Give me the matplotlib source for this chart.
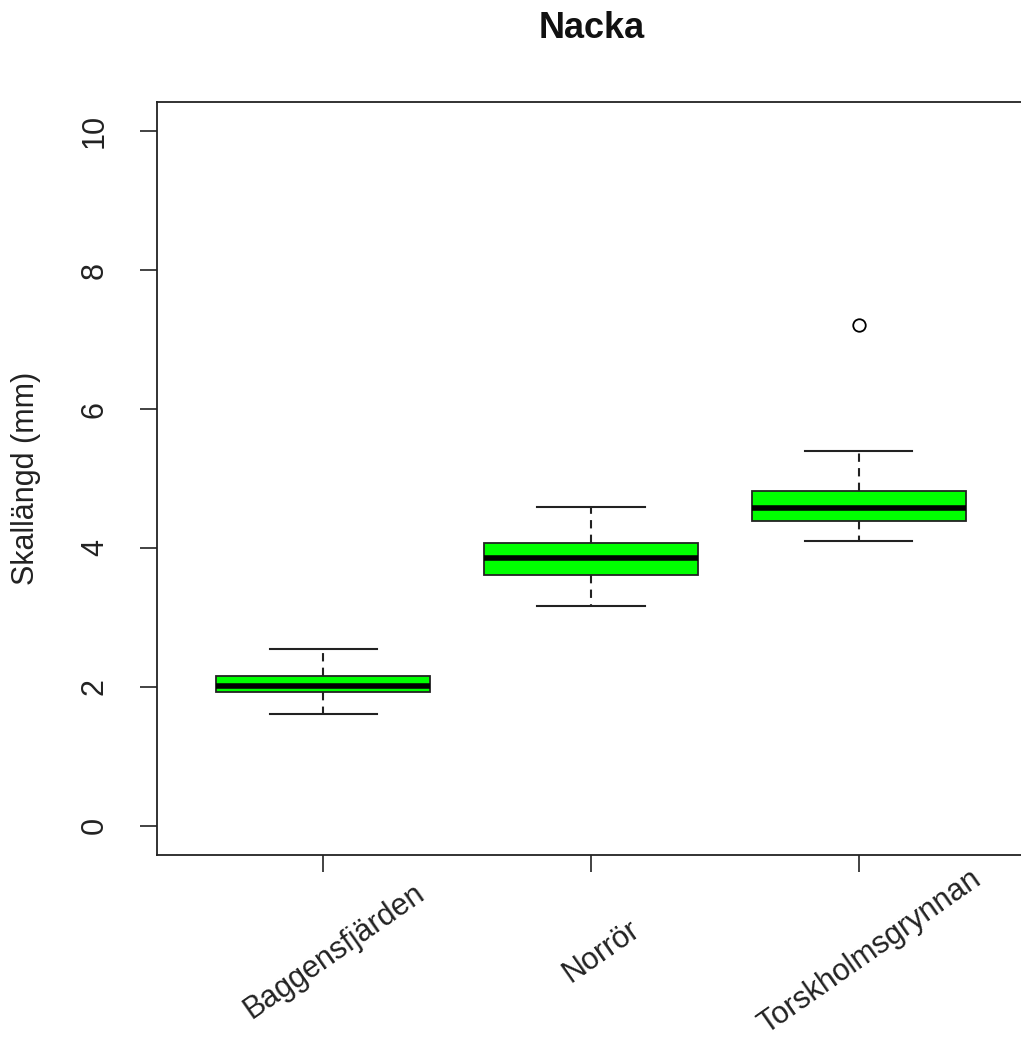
import numpy as np
import matplotlib
matplotlib.use("Agg")
import matplotlib.pyplot as plt
from matplotlib.transforms import blended_transform_factory

plt.rcParams['font.family'] = ['Liberation Sans', 'DejaVu Sans']

sites = ["Baggensfjärden", "Norrör", "Torskholmsgrynnan"]
whislo = [1.61, 3.17, 4.10]
q1 = [1.93, 3.61, 4.39]
med = [2.01, 3.86, 4.58]
q3 = [2.16, 4.07, 4.82]
whishi = [2.55, 4.59, 5.40]
fliers = [[], [], [7.21]]

stats = []
for i in range(len(sites)):
    stats.append(dict(label=sites[i], whislo=whislo[i], q1=q1[i], med=med[i],
                      q3=q3[i], whishi=whishi[i], fliers=fliers[i]))

fig = plt.figure(figsize=(10.21, 10.41), dpi=100)
ax = fig.add_axes([157/1021, 186/1041, 868/1021, 753/1041])

ax.bxp(stats, positions=[1, 2, 3], widths=0.8, capwidths=0.4,
       patch_artist=True,
       boxprops=dict(facecolor="#00ff00", edgecolor="#222222", linewidth=1.3),
       medianprops=dict(color="black", linewidth=4),
       whiskerprops=dict(color="#222222", linewidth=1.5, linestyle=(0, (4, 3))),
       capprops=dict(color="#222222", linewidth=1.5),
       flierprops=dict(marker="o", markersize=9, markerfacecolor="none",
                       markeredgecolor="black", markeredgewidth=1.3))

ax.set_xlim(0.38, 3.62)
ax.set_ylim(-0.42, 10.42)
ax.set_yticks([0, 2, 4, 6, 8, 10])
ax.set_xticks([1, 2, 3])
ax.set_xticklabels([])
ax.tick_params(axis="both", direction="out", length=12, width=1.2, labelsize=22,
               colors="#222222")
ax.tick_params(axis="y", pad=22)
for lbl in ax.get_yticklabels():
    lbl.set_rotation(90)
    lbl.set_va("center")
for s in ax.spines.values():
    s.set_linewidth(1.3)
    s.set_color("#222222")

trans = blended_transform_factory(ax.transData, fig.transFigure)
for i, name in enumerate(sites):
    ax.text(i + 1 + 0.04, 1 - 952/1041, name, transform=trans, rotation=35,
            ha="center", va="center", fontsize=22, color="#222222")

ax.set_ylabel("Skallängd (mm)", fontsize=22, color="#222222", labelpad=28)
fig.text(592/1021, 1 - 28/1041, "Nacka", ha="center", va="center",
         fontsize=26, fontweight="bold", color="#111111")

fig.savefig("out.png", dpi=100)
